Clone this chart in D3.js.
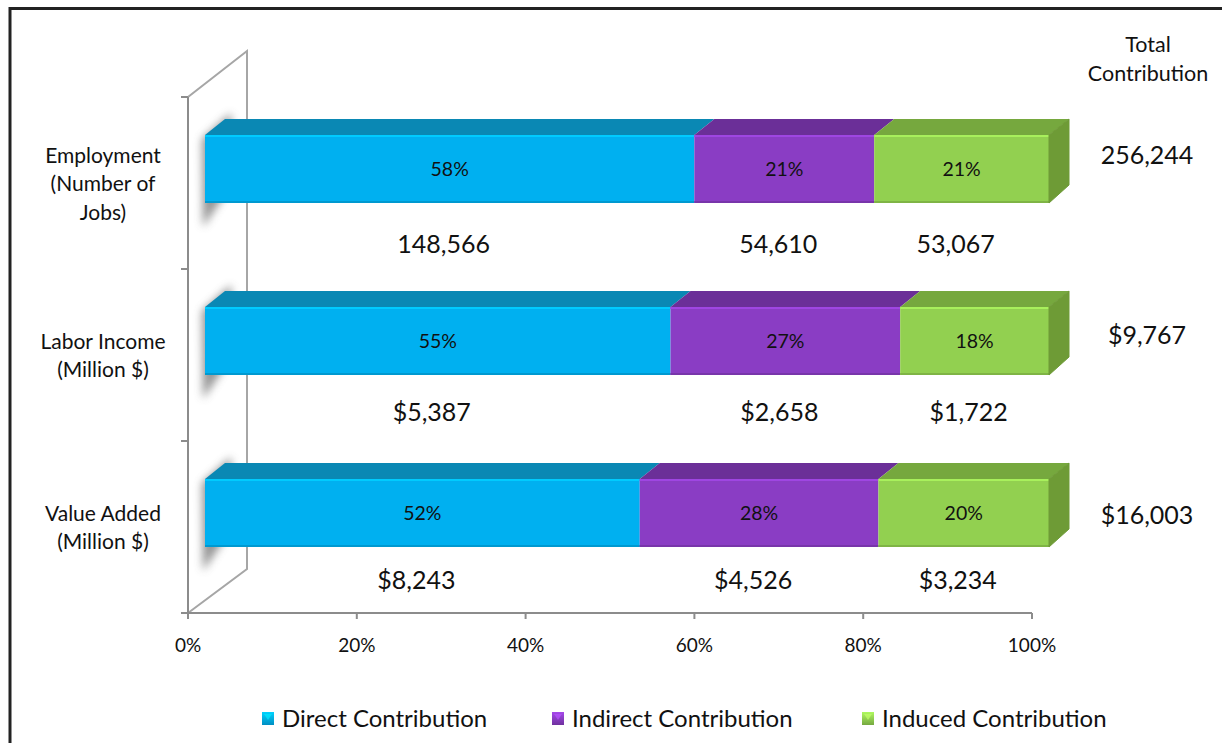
<!DOCTYPE html>
<html><head><meta charset="utf-8">
<script src="https://cdn.jsdelivr.net/npm/d3@7"></script>
<style>
html,body{margin:0;padding:0;background:#fff;}
svg{display:block;font-family:Lato,"Open Sans",sans-serif;}
</style></head>
<body>
<svg id="chart" width="1222" height="743"></svg>
<script>
// ---------- data ----------
const categories = [["Employment","(Number of","Jobs)"],["Labor Income","(Million $)"],["Value Added","(Million $)"]];
const seriesNames = ["Direct Contribution","Indirect Contribution","Induced Contribution"];
const direct   = [148566, 5387, 8243];
const indirect = [54610, 2658, 4526];
const induced  = [53067, 1722, 3234];
const totals   = [256244, 9767, 16003];
const valueLabels = [["148,566","54,610","53,067"],["$5,387","$2,658","$1,722"],["$8,243","$4,526","$3,234"]];
const totalLabels = ["256,244","$9,767","$16,003"];
const pctLabels = [["58%","21%","21%"],["55%","27%","18%"],["52%","28%","20%"]];
const xTicks = [0,0.2,0.4,0.6,0.8,1.0];

// ---------- styles ----------
const frontCol = ["#00B0F0","#8A3DC4","#92D050"];
const topCol   = ["#0A88B4","#6B2F98","#76A83E"];
const sideCol  = "#6E9B36";

const svg = d3.select("#chart");
const defs = svg.append("defs");
defs.append("filter").attr("id","blur").attr("x","-50%").attr("y","-50%").attr("width","200%").attr("height","200%")
  .append("feGaussianBlur").attr("stdDeviation",4);
frontCol.forEach((c,i)=>{
  const g = defs.append("linearGradient").attr("id","lg"+i).attr("x1",0).attr("y1",0).attr("x2",0).attr("y2",1);
  g.append("stop").attr("offset","0%").attr("stop-color",d3.color(c).brighter(0.5));
  g.append("stop").attr("offset","100%").attr("stop-color",d3.color(c).darker(0.6));
});

// frame
svg.append("path").attr("d","M10,750 L10,8.5 L1230,8.5").attr("fill","none").attr("stroke","#222").attr("stroke-width",3);

// scales
const x = d3.scaleLinear().domain([0,1]).range([188,1032]);
const y = d3.scaleBand().domain(d3.range(categories.length)).range([97,613]);
const depthX = 20, depthY = 16, barH = 68, frontDX = 17;
const wallDX = 59, wallDY = 46;

// back wall
const wall = svg.append("g");
wall.append("path")
  .attr("d",`M${x(0)},${y.range()[0]} L${x(0)+wallDX},${y.range()[0]-wallDY} L${x(0)+wallDX},${y.range()[1]-wallDY+2} L${x(0)},${y.range()[1]}`)
  .attr("fill","#fff").attr("stroke","#A6A6A6").attr("stroke-width",2);

// axes
const axisCol = "#8C8C8C";
svg.append("line").attr("x1",x(0)).attr("x2",x(1)).attr("y1",613).attr("y2",613).attr("stroke",axisCol).attr("stroke-width",2);
svg.append("line").attr("x1",x(0)).attr("x2",x(0)).attr("y1",97).attr("y2",613).attr("stroke",axisCol).attr("stroke-width",2);
svg.selectAll(".xt").data(xTicks).enter().append("line")
  .attr("x1",d=>x(d)).attr("x2",d=>x(d)).attr("y1",613).attr("y2",619).attr("stroke",axisCol).attr("stroke-width",2);
const yEdges = [97,...categories.map((c,i)=>y(i)+y.bandwidth())];
svg.selectAll(".yt").data(yEdges).enter().append("line")
  .attr("x1",x(0)-7).attr("x2",x(0)).attr("y1",d=>d).attr("y2",d=>d).attr("stroke",axisCol).attr("stroke-width",2);
svg.selectAll(".xl").data(xTicks).enter().append("text")
  .attr("x",d=>x(d)).attr("y",652).attr("text-anchor","middle").attr("font-size",19).attr("fill","#111")
  .text(d=>d3.format(".0%")(d));

// bars
const rows = categories.map((c,i)=>{
  const vals=[direct[i],indirect[i],induced[i]];
  let cum=0;
  return vals.map((v,k)=>{const s=cum/totals[i]; cum+=v; return {row:i,k,v,x0:s,x1:cum/totals[i]};});
});

rows.forEach((segs,i)=>{
  const yTop = y(i)+y.bandwidth()/2-14-barH/2;
  const g = svg.append("g");
  const xl = x(0)+frontDX, xr = x(1)+frontDX;
  // shadow on wall
  g.append("path")
    .attr("d",`M${xl-3},${yTop+4} L${xl+depthX+6},${yTop-depthY-6} L${xl+depthX+8},${yTop+barH-20} L${xl-2},${yTop+barH+24} Z`)
    .attr("fill","#7a7a7a").attr("opacity",0.8).attr("filter","url(#blur)");
  segs.forEach(s=>{
    const a = x(s.x0)+frontDX, b = x(s.x1)+frontDX;
    g.append("path")
      .attr("d",`M${a},${yTop} L${a+depthX},${yTop-depthY} L${b+depthX},${yTop-depthY} L${b},${yTop} Z`)
      .attr("fill",topCol[s.k]);
    g.append("rect").attr("x",a).attr("y",yTop).attr("width",b-a).attr("height",barH).attr("fill",frontCol[s.k]);
    g.append("rect").attr("x",a).attr("y",yTop).attr("width",b-a).attr("height",2).attr("fill",d3.color(frontCol[s.k]).brighter(0.4));
    g.append("rect").attr("x",a).attr("y",yTop+barH-2).attr("width",b-a).attr("height",2).attr("fill",d3.color(frontCol[s.k]).darker(0.4));
    g.append("text").attr("x",(a+b)/2).attr("y",yTop+barH/2+7).attr("text-anchor","middle")
      .attr("font-size",19.5).attr("fill","#111").text(pctLabels[i][s.k]);
    g.append("text").attr("x",(a+b)/2-6).attr("y",y(i)+y.bandwidth()/2+70-4*i).attr("text-anchor","middle")
      .attr("font-size",25).attr("fill","#111").text(valueLabels[i][s.k]);
  });
  // right side face
  g.append("path")
    .attr("d",`M${xr},${yTop} L${xr+depthX},${yTop-depthY} L${xr+depthX},${yTop-depthY+barH-2} L${xr},${yTop+barH} Z`)
    .attr("fill",sideCol).attr("stroke",sideCol).attr("stroke-width",1).attr("stroke-linejoin","round");
  // total
  svg.append("text").attr("x",1147).attr("y",y(i)+y.bandwidth()/2-19+8*i).attr("text-anchor","middle")
    .attr("font-size",25).attr("fill","#111").text(totalLabels[i]);
  // category label
  const lines = categories[i];
  const cy = y(i)+y.bandwidth()/2+1;
  svg.append("text").attr("text-anchor","middle").attr("font-size",21).attr("fill","#111")
    .selectAll("tspan").data(lines).enter().append("tspan")
    .attr("x",103).attr("y",(d,j)=>cy+7+(j-(lines.length-1)/2)*28.5).text(d=>d);
});

// total header
svg.append("text").attr("text-anchor","middle").attr("font-size",21.5).attr("fill","#111")
  .selectAll("tspan").data(["Total","Contribution"]).enter().append("tspan")
  .attr("x",1148).attr("y",(d,j)=>52+j*28.5).text(d=>d);

// legend
const legX = [262,552,862];
const lg = svg.append("g");
seriesNames.forEach((n,k)=>{
  lg.append("rect").attr("x",legX[k]).attr("y",712).attr("width",12).attr("height",13).attr("fill","url(#lg"+k+")");
  lg.append("path").attr("d",`M${legX[k]+2},${714} L${legX[k]+10},${714} L${legX[k]+6},${720} Z`).attr("fill",d3.color(frontCol[k]).brighter(0.8)).attr("opacity",0.7);
  lg.append("text").attr("x",legX[k]+20).attr("y",727).attr("font-size",24).attr("fill","#111").text(n);
});
</script>
</body></html>
